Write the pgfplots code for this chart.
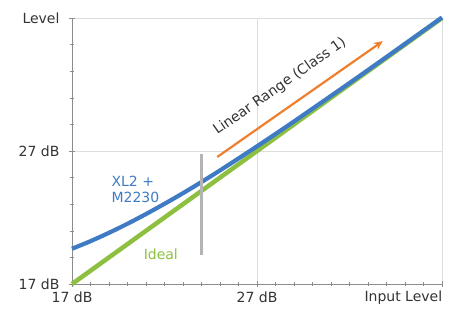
\documentclass[border=0pt]{standalone}
\usepackage{pgfplots}
\pgfplotsset{compat=1.18}
\usepackage{fontspec}
\setmainfont{DejaVu Sans}
\usetikzlibrary{arrows.meta}
\definecolor{cblue}{HTML}{3E7BC4}
\definecolor{cgreen}{HTML}{8DC040}
\definecolor{corange}{HTML}{EE7F2D}
\definecolor{cbar}{HTML}{B4B4B4}
\definecolor{ctext}{HTML}{333333}
\begin{document}
\begin{tikzpicture}
\path[use as bounding box] (-72bp,-28bp) rectangle (380bp,284bp);
\begin{axis}[
  at={(0,0)}, anchor=south west,
  scale only axis, width=370bp, height=266bp,
  xmin=17, xmax=37, ymin=17, ymax=37,
  axis x line*=bottom, axis y line*=left,
  axis line style={draw=black!45, line width=0.8pt, -},
  xtick={17,27,37}, xticklabels={17 dB,27 dB,{}},
  ytick={17,27,37}, yticklabels={17 dB,27 dB,Level},
  minor xtick={18,19,20,21,22,23,24,25,26,28,29,30,31,32,33,34,35,36},
  minor ytick={19,21,23,25,29,31,33,35},
  tick align=center,
  major tick length=6bp, minor tick length=4bp,
  tick style={draw=black!45, line width=0.6pt},
  grid=major,
  major grid style={draw=black!13, line width=0.8pt},
  ticklabel style={font=\fontsize{14bp}{16bp}\selectfont, text=ctext},
  yticklabel style={xshift=-6bp},
  xticklabel style={yshift=-1bp},
  clip=false,
]
\addplot[cgreen, line width=4.5bp] coordinates {(17,17) (37,37)};
\addplot[cblue, line width=4.2bp, smooth] coordinates {
(17,19.65) (18,20.22) (19,20.85) (20,21.53) (21,22.26) (22,23.03) (23,23.83)
(24,24.67) (25,25.54) (26,26.44) (27,27.35) (28,28.28) (29,29.22) (30,30.18)
(32,32.11) (34,34.07) (37,37.04)};
\addplot[cbar, line width=3.5bp] coordinates {(24,19.2) (24,26.8)};
\addplot[corange, line width=2.2bp, -{Stealth[length=9bp,width=8bp]}] coordinates {(24.85,26.55) (33.8,35.26)};
\node[rotate=35, text=ctext, font=\fontsize{14bp}{16bp}\selectfont] at (axis cs:28.24,31.85) {Linear Range (Class 1)};
\node[anchor=west, align=left, text=cblue, font=\fontsize{14bp}{16bp}\selectfont] at (axis cs:18.95,24.1) {XL2 +\\M2230};
\node[text=cgreen, font=\fontsize{14bp}{16bp}\selectfont] at (axis cs:21.8,19.2) {Ideal};
\node[anchor=east, text=ctext, font=\fontsize{14bp}{16bp}\selectfont] at (axis cs:37.2,15.95) {Input Level};
\end{axis}
\end{tikzpicture}
\end{document}
